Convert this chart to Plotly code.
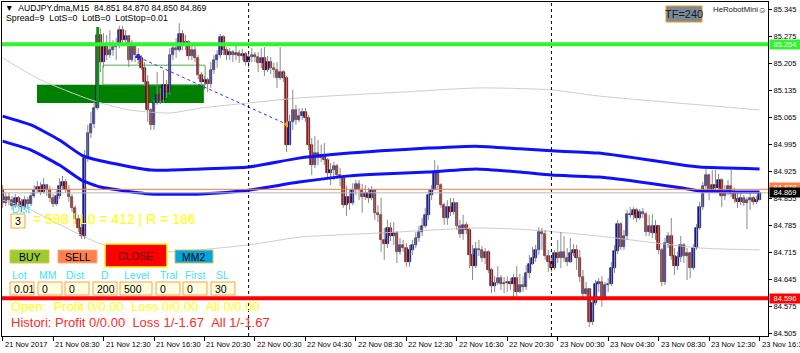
import plotly.graph_objects as go

# ---------------- data ----------------
x_tick_labels = ["21 Nov 2017", "21 Nov 08:30", "21 Nov 12:30", "21 Nov 16:30", "21 Nov 20:30",
                 "22 Nov 00:30", "22 Nov 04:30", "22 Nov 08:30", "22 Nov 12:30", "22 Nov 16:30",
                 "22 Nov 20:30", "23 Nov 00:30", "23 Nov 04:30", "23 Nov 08:30", "23 Nov 12:30",
                 "23 Nov 16:30"]
x_tick_bars = [0, 16, 32, 48, 64, 80, 96, 112, 128, 144, 160, 176, 192, 208, 224, 240]
y_ticks = [85.345, 85.275, 85.205, 85.135, 85.065, 84.995, 84.925, 84.855,
           84.785, 84.715, 84.645, 84.575, 84.505]

first_open = 84.876
closes = [84.843, 84.858, 84.850, 84.835, 84.856, 84.845, 84.832, 84.850, 84.840, 84.861,
          84.876, 84.884, 84.871, 84.889, 84.876, 84.856, 84.840, 84.861, 84.887, 84.897,
          84.876, 84.858, 84.830, 84.801, 84.778, 84.757, 84.959, 85.024, 85.047, 85.089,
          85.278, 85.208, 85.252, 85.226, 85.239, 85.247, 85.252, 85.291, 85.265, 85.276,
          85.213, 85.252, 85.226, 85.219, 85.193, 85.156, 85.084, 85.045, 85.102, 85.123,
          85.110, 85.149, 85.130, 85.226, 85.244, 85.239, 85.281, 85.252, 85.260, 85.224,
          85.239, 85.219, 85.174, 85.156, 85.162, 85.151, 85.187, 85.213, 85.226, 85.273,
          85.239, 85.226, 85.234, 85.226, 85.232, 85.224, 85.229, 85.208, 85.221, 85.226,
          85.221, 85.206, 85.219, 85.187, 85.208, 85.193, 85.187, 85.167, 85.182, 85.167,
          84.993, 85.053, 85.084, 85.058, 85.068, 85.079, 85.063, 84.993, 84.941, 84.972,
          84.959, 84.964, 84.954, 84.920, 84.928, 84.939, 84.915, 84.907, 84.837, 84.858,
          84.843, 84.876, 84.892, 84.876, 84.858, 84.869, 84.856, 84.876, 84.817, 84.812,
          84.747, 84.736, 84.778, 84.757, 84.765, 84.716, 84.734, 84.726, 84.690, 84.721,
          84.734, 84.752, 84.767, 84.783, 84.812, 84.863, 84.876, 84.923, 84.889, 84.837,
          84.804, 84.832, 84.819, 84.843, 84.783, 84.762, 84.786, 84.773, 84.708, 84.679,
          84.723, 84.721, 84.700, 84.716, 84.669, 84.627, 84.635, 84.648, 84.633, 84.635,
          84.638, 84.633, 84.648, 84.612, 84.630, 84.625, 84.661, 84.684, 84.700, 84.721,
          84.767, 84.762, 84.705, 84.690, 84.674, 84.713, 84.700, 84.716, 84.700, 84.690,
          84.713, 84.721, 84.700, 84.651, 84.607, 84.620, 84.534, 84.583, 84.633, 84.638,
          84.599, 84.630, 84.633, 84.674, 84.718, 84.788, 84.729, 84.757, 84.814, 84.812,
          84.825, 84.804, 84.819, 84.814, 84.767, 84.783, 84.765, 84.783, 84.721, 84.638,
          84.739, 84.757, 84.705, 84.679, 84.703, 84.734, 84.705, 84.713, 84.674, 84.726,
          84.778, 84.832, 84.887, 84.915, 84.876, 84.889, 84.882, 84.902, 84.861, 84.871,
          84.887, 84.866, 84.853, 84.845, 84.856, 84.843, 84.850, 84.856, 84.845, 84.850,
          84.869]
highs = [84.889, 84.871, 84.869, 84.861, 84.866, 84.861, 84.853, 84.861, 84.858, 84.871,
         84.889, 84.900, 84.897, 84.907, 84.892, 84.887, 84.866, 84.876, 84.907, 84.913,
         84.905, 84.889, 84.866, 84.837, 84.812, 84.788, 84.980, 85.045, 85.079, 85.110,
         85.299, 85.296, 85.283, 85.278, 85.291, 85.265, 85.270, 85.302, 85.302, 85.291,
         85.278, 85.265, 85.257, 85.244, 85.226, 85.208, 85.174, 85.089, 85.110, 85.182,
         85.141, 85.187, 85.162, 85.244, 85.252, 85.270, 85.309, 85.291, 85.278, 85.265,
         85.252, 85.252, 85.226, 85.182, 85.172, 85.167, 85.208, 85.226, 85.239, 85.281,
         85.278, 85.247, 85.244, 85.239, 85.250, 85.239, 85.242, 85.234, 85.229, 85.244,
         85.234, 85.234, 85.244, 85.247, 85.224, 85.221, 85.206, 85.208, 85.247, 85.187,
         85.172, 85.071, 85.136, 85.097, 85.089, 85.089, 85.089, 85.071, 85.011, 85.016,
         85.006, 84.993, 84.998, 84.959, 84.946, 84.949, 84.944, 84.933, 84.913, 84.887,
         84.876, 84.894, 84.902, 84.902, 84.892, 84.889, 84.882, 84.887, 84.879, 84.837,
         84.856, 84.778, 84.799, 84.793, 84.793, 84.770, 84.752, 84.747, 84.739, 84.734,
         84.747, 84.767, 84.783, 84.804, 84.830, 84.876, 84.889, 84.954, 84.941, 84.894,
         84.843, 84.850, 84.856, 84.856, 84.845, 84.799, 84.812, 84.793, 84.778, 84.734,
         84.742, 84.747, 84.731, 84.726, 84.721, 84.674, 84.653, 84.679, 84.656, 84.651,
         84.653, 84.648, 84.659, 84.679, 84.659, 84.653, 84.682, 84.708, 84.729, 84.734,
         84.780, 84.778, 84.773, 84.721, 84.700, 84.721, 84.747, 84.767, 84.757, 84.726,
         84.752, 84.736, 84.734, 84.721, 84.669, 84.638, 84.622, 84.596, 84.643, 84.648,
         84.653, 84.638, 84.648, 84.690, 84.734, 84.799, 84.793, 84.773, 84.825, 84.832,
         84.832, 84.830, 84.827, 84.830, 84.819, 84.812, 84.814, 84.799, 84.783, 84.726,
         84.752, 84.767, 84.804, 84.726, 84.716, 84.757, 84.739, 84.726, 84.716, 84.736,
         84.788, 84.845, 84.897, 84.933, 84.918, 84.928, 84.928, 84.918, 84.907, 84.889,
         84.902, 84.928, 84.882, 84.871, 84.869, 84.863, 84.858, 84.869, 84.861, 84.861,
         84.870]
lows = [84.830, 84.835, 84.837, 84.825, 84.830, 84.835, 84.819, 84.825, 84.827, 84.835,
        84.856, 84.869, 84.863, 84.866, 84.861, 84.845, 84.832, 84.835, 84.853, 84.876,
        84.869, 84.845, 84.819, 84.788, 84.767, 84.749, 84.749, 84.949, 85.011, 85.037,
        85.084, 85.182, 85.193, 85.213, 85.219, 85.224, 85.213, 85.244, 85.252, 85.250,
        85.195, 85.208, 85.208, 85.203, 85.187, 85.146, 85.053, 85.032, 85.032, 85.097,
        85.099, 85.102, 85.115, 85.123, 85.213, 85.219, 85.234, 85.239, 85.239, 85.213,
        85.213, 85.208, 85.164, 85.146, 85.136, 85.130, 85.141, 85.177, 85.193, 85.219,
        85.226, 85.213, 85.213, 85.208, 85.213, 85.206, 85.213, 85.200, 85.193, 85.208,
        85.208, 85.182, 85.193, 85.172, 85.182, 85.177, 85.167, 85.141, 85.162, 85.156,
        84.975, 84.993, 85.032, 85.045, 85.053, 85.058, 85.053, 84.980, 84.915, 84.933,
        84.941, 84.949, 84.941, 84.907, 84.889, 84.902, 84.905, 84.887, 84.830, 84.809,
        84.825, 84.837, 84.863, 84.850, 84.817, 84.850, 84.843, 84.850, 84.799, 84.793,
        84.716, 84.695, 84.726, 84.744, 84.734, 84.687, 84.708, 84.716, 84.677, 84.677,
        84.708, 84.726, 84.742, 84.757, 84.778, 84.799, 84.850, 84.876, 84.876, 84.830,
        84.786, 84.786, 84.809, 84.812, 84.773, 84.752, 84.747, 84.762, 84.674, 84.643,
        84.674, 84.705, 84.690, 84.684, 84.661, 84.609, 84.612, 84.630, 84.617, 84.609,
        84.612, 84.617, 84.599, 84.601, 84.609, 84.612, 84.617, 84.648, 84.682, 84.690,
        84.708, 84.721, 84.695, 84.664, 84.664, 84.669, 84.687, 84.674, 84.690, 84.679,
        84.687, 84.705, 84.669, 84.638, 84.596, 84.601, 84.521, 84.526, 84.578, 84.612,
        84.573, 84.591, 84.612, 84.627, 84.661, 84.710, 84.721, 84.721, 84.747, 84.804,
        84.799, 84.793, 84.799, 84.804, 84.757, 84.757, 84.752, 84.747, 84.710, 84.627,
        84.630, 84.726, 84.695, 84.656, 84.669, 84.690, 84.687, 84.643, 84.648, 84.669,
        84.721, 84.773, 84.825, 84.876, 84.850, 84.869, 84.871, 84.871, 84.832, 84.850,
        84.863, 84.858, 84.843, 84.830, 84.837, 84.835, 84.775, 84.825, 84.837, 84.840,
        84.850]

# moving averages (higher timeframe) sampled at bar positions
ma_bars = [0, 9, 18, 25, 31, 47, 63, 78, 94, 110, 120, 135, 150, 164, 174, 189, 205, 215, 221, 240]
ma_upper = [85.068, 85.045, 85.006, 84.967, 84.952, 84.928, 84.931, 84.936, 84.959, 84.972,
            84.978, 84.985, 84.990, 84.983, 84.978, 84.972, 84.954, 84.942, 84.936, 84.931]
ma_lower = [85.003, 84.980, 84.941, 84.902, 84.884, 84.866, 84.866, 84.876, 84.897, 84.913,
            84.918, 84.923, 84.931, 84.923, 84.915, 84.910, 84.894, 84.882, 84.874, 84.871]

gray_hi_bars = [0, 12, 28, 40, 53, 63, 78, 94, 110, 126, 151, 174, 189, 221, 240]
gray_hi_vals = [85.219, 85.162, 85.110, 85.084, 85.076, 85.089, 85.102, 85.115, 85.123,
                85.130, 85.141, 85.136, 85.120, 85.097, 85.084]
gray_lo_bars = [0, 7, 32, 52, 78, 94, 120, 151, 167, 189, 221, 240]
gray_lo_vals = [84.850, 84.832, 84.734, 84.716, 84.734, 84.754, 84.765, 84.778, 84.773,
                84.757, 84.726, 84.721]

trade_bars = [43, 90]
trade_prices = [85.221, 85.047]

level_green = 85.254
level_red = 84.596
ask_price = 84.878
bid_price = 84.869
separator_bars = [78, 174]

zone_fill = [10.9, 63.8, 85.102, 85.149]      # bar0, bar1, p0, p1
zone_outline = [31.8, 64.2, 85.149, 85.200]
marked_bar = [29.7, 30.6, 85.097, 85.299]

# ---------------- figure ----------------
L, R, T, B = 2, 768, 2, 336
FONT = "Liberation Sans, Arial, sans-serif"


def px(x):
    return (x - L) / (R - L)


def py(y):
    return (B - y) / (B - T)


def nb(s):
    return s.replace(" ", "\u00a0")


n = len(closes)
opens = [first_open] + closes[:-1]

fig = go.Figure()

# gray guide lines
fig.add_trace(go.Scatter(x=gray_hi_bars, y=gray_hi_vals, mode="lines",
                         line=dict(color="#CDCDCD", width=1, shape="spline", smoothing=0.6),
                         hoverinfo="skip"))
fig.add_trace(go.Scatter(x=gray_lo_bars, y=gray_lo_vals, mode="lines",
                         line=dict(color="#CDCDCD", width=1, shape="spline", smoothing=0.6),
                         hoverinfo="skip"))

# wicks
wx, wy = [], []
for i in range(n):
    wx += [i, i, None]
    wy += [lows[i], highs[i], None]
fig.add_trace(go.Scatter(x=wx, y=wy, mode="lines", line=dict(color="#8A8A8A", width=1),
                         hoverinfo="skip"))

# bodies
up = [i for i in range(n) if closes[i] >= opens[i]]
dn = [i for i in range(n) if closes[i] < opens[i]]
for idx, fill, edge in [(up, "#1414D0", "#00002A"), (dn, "#C80A0A", "#2A0000")]:
    fig.add_trace(go.Bar(
        x=idx,
        base=[min(opens[i], closes[i]) for i in idx],
        y=[max(abs(closes[i] - opens[i]), 0.0012) for i in idx],
        width=0.8,
        marker=dict(color=fill, line=dict(color=edge, width=0.6)),
        hoverinfo="skip"))

# MA lines
fig.add_trace(go.Scatter(x=ma_bars, y=ma_upper, mode="lines",
                         line=dict(color="#1010FF", width=3, shape="spline", smoothing=0.5),
                         hoverinfo="skip"))
fig.add_trace(go.Scatter(x=ma_bars, y=ma_lower, mode="lines",
                         line=dict(color="#1010FF", width=3, shape="spline", smoothing=0.5),
                         hoverinfo="skip"))

# trade line
fig.add_trace(go.Scatter(x=trade_bars, y=trade_prices, mode="lines",
                         line=dict(color="#3030FF", width=1, dash="dot"), hoverinfo="skip"))
fig.add_trace(go.Scatter(x=[trade_bars[0]], y=[trade_prices[0]], mode="markers",
                         marker=dict(symbol="cross", size=5, color="#2020FF"), hoverinfo="skip"))
fig.add_trace(go.Scatter(x=[trade_bars[1]], y=[trade_prices[1]], mode="markers",
                         marker=dict(symbol="triangle-left", size=6, color="#F0A020"),
                         hoverinfo="skip"))

shapes = []
# zones
shapes.append(dict(type="rect", xref="x", yref="y", x0=zone_fill[0], x1=zone_fill[1],
                   y0=zone_fill[2], y1=zone_fill[3], fillcolor="#008000",
                   line=dict(width=0), layer="below"))
shapes.append(dict(type="rect", xref="x", yref="y", x0=zone_outline[0], x1=zone_outline[1],
                   y0=zone_outline[2], y1=zone_outline[3], fillcolor="rgba(0,0,0,0)",
                   line=dict(color="#4CAF50", width=1), layer="below"))
shapes.append(dict(type="rect", xref="x", yref="y", x0=marked_bar[0], x1=marked_bar[1],
                   y0=marked_bar[2], y1=marked_bar[3], fillcolor="#109010",
                   line=dict(width=0), layer="above"))
# separators
for sb in separator_bars:
    shapes.append(dict(type="line", xref="x", yref="paper", x0=sb, x1=sb, y0=0, y1=1,
                       line=dict(color="#000000", width=1, dash="dot")))
# bid / ask
shapes.append(dict(type="line", xref="paper", yref="y", x0=0, x1=1, y0=bid_price, y1=bid_price,
                   line=dict(color="#B8B8B8", width=1)))
shapes.append(dict(type="line", xref="paper", yref="y", x0=0, x1=1, y0=ask_price, y1=ask_price,
                   line=dict(color="#FF7F40", width=1)))
# levels
shapes.append(dict(type="line", xref="paper", yref="y", x0=0, x1=1, y0=level_green,
                   y1=level_green, line=dict(color="#2EF52E", width=4)))
shapes.append(dict(type="line", xref="paper", yref="y", x0=0, x1=1, y0=level_red,
                   y1=level_red, line=dict(color="#FF0000", width=4)))


def box(x0, y0, x1, y1, fill, edge, w=1):
    shapes.append(dict(type="rect", xref="paper", yref="paper", x0=px(x0), x1=px(x1),
                       y0=py(y1), y1=py(y0), fillcolor=fill, line=dict(color=edge, width=w),
                       layer="above"))


ann = []


def text(x, y, s, color="#000000", size=8, anchor="left"):
    ann.append(dict(xref="paper", yref="paper", x=px(x), y=py(y), text=nb(s), showarrow=False,
                    xanchor=anchor, yanchor="middle",
                    font=dict(family=FONT, size=size, color=color), borderpad=0))


# TF box and header
box(666, 6, 702, 22, "#7B8A99", "#FF9A00", 1)
text(684, 14, "TF=240", "#1A1A1A", 11, "center")
text(712, 10, "HeRobotMini", "#202020", 7.8)
text(757, 10, "\u263A", "#202020", 8.5)
text(4, 8, "\u25BC  AUDJPY.dma,M15  84.851 84.870 84.850 84.869", "#000000", 8.6)
text(5, 18, "Spread=9  LotS=0  LotB=0  LotStop=0.01", "#000000", 8.8)

# panel
text(11, 209, "Dist", "#3DE3F2", 10.5)
box(11, 214, 25, 228, "#FFFFE0", "#FFA040", 1)
text(14, 221, "3", "#000000", 10.5)
text(32, 219, "= 598 | L0 = 412 | R = 186", "#FFFF00", 14)

box(10, 250, 49, 263, "#9ACD32", "#E2C040", 1)
text(29.5, 256.5, "BUY", "#000000", 10.5, "center")
box(58, 250, 97, 263, "#FF7F50", "#E8B878", 1)
text(77.5, 256.5, "SELL", "#000000", 10.5, "center")
box(105, 244, 167, 267, "#FF0000", "#FFFF00", 1.5)
text(136, 255.5, "CLOSE", "#5A0000", 10.5, "center")
box(175, 250, 213, 263, "#00A6E0", "#E2C040", 1)
text(194, 256.5, "MM2", "#000000", 10.5, "center")

labels = [(11, "Lot"), (38, "MM"), (65, "Dist"), (100, "D"), (123, "Level"), (159, "Tral"),
          (184, "First"), (215, "SL")]
for lx, lt in labels:
    text(lx, 275, lt, "#3DE3F2", 10.5)
inputs = [(10, 34, "0.01"), (38, 62, "0"), (65, 89, "0"), (93, 117, "200"), (120, 152, "500"),
          (156, 180, "0"), (183, 207, "0"), (211, 235, "30")]
for x0, x1, t in inputs:
    box(x0, 282, x1, 295, "#FFFFE0", "#FFA040", 1)
    text(x0 + 3, 288.5, t, "#000000", 10.5)

text(10, 306, "Open:  Profit 0/0.00  Loss 0/0.00  All 0/0.00", "#FFFF00", 13)
text(10, 322, "Histori: Profit 0/0.00  Loss 1/-1.67  All 1/-1.67", "#FF2A2A", 13)

# x tick labels (left aligned like the terminal)
for b, lab in zip(x_tick_bars, x_tick_labels):
    ann.append(dict(xref="x", yref="paper", x=b, y=py(344), text=nb(lab), showarrow=False,
                    xanchor="left", yanchor="middle", xshift=1,
                    font=dict(family=FONT, size=7.5, color="#000000"), borderpad=0))

# price tags on the right axis
for price, bg, yc in [(ask_price, "#FF7F40", 187), (bid_price, "#000000", 192.5),
                      (level_green, "#2EF52E", 44.5), (level_red, "#FF0000", 298.2)]:
    ann.append(dict(xref="paper", yref="paper", x=px(769), y=py(yc), text=f"{price:.3f}",
                    showarrow=False, xanchor="left", yanchor="middle", bgcolor=bg,
                    width=28, height=7, borderpad=1,
                    font=dict(family=FONT, size=7.5, color="#FFFFFF")))

fig.update_layout(
    width=800, height=353,
    margin=dict(l=L, r=800 - R, t=T, b=353 - B),
    paper_bgcolor="#FFFFFF", plot_bgcolor="#FFFFFF",
    showlegend=False, barmode="overlay", bargap=0,
    shapes=shapes, annotations=ann,
    xaxis=dict(range=[-0.2, 242.67], tickvals=x_tick_bars, showticklabels=False,
               ticks="outside", ticklen=4, tickcolor="#000000", showgrid=False,
               zeroline=False, showline=True, linecolor="#000000", linewidth=1, mirror=True,
               fixedrange=True),
    yaxis=dict(side="right", range=[84.4978, 85.3638], tickvals=y_ticks,
               ticktext=[f"{v:.3f}" for v in y_ticks], ticks="outside", ticklen=3,
               tickcolor="#000000", tickfont=dict(family=FONT, size=7.5, color="#000000"),
               showgrid=False, zeroline=False, showline=True, linecolor="#000000",
               linewidth=1, mirror=True, fixedrange=True),
)

fig.write_html("out.html")
